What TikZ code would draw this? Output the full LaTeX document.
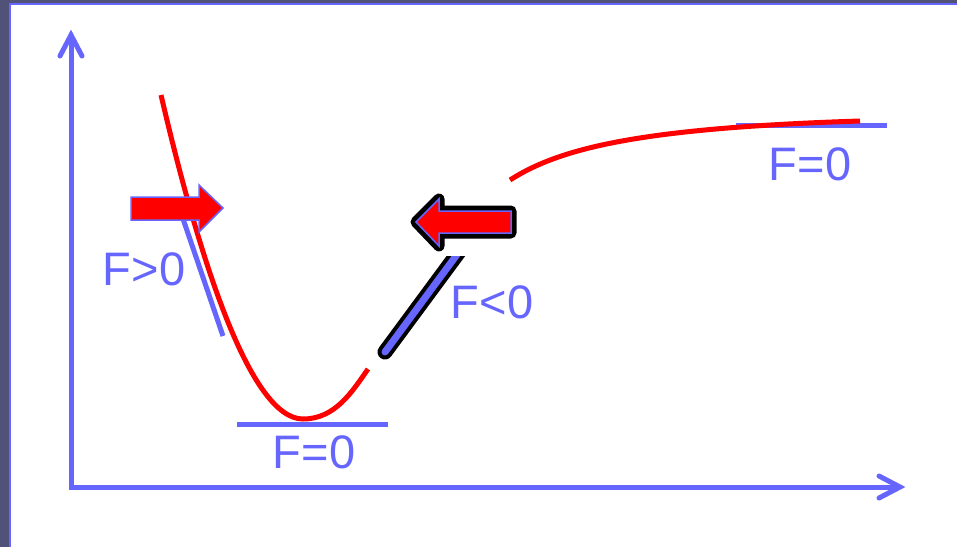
\documentclass[tikz,border=0pt]{standalone}
\usepackage{fontspec}
\setmainfont{Liberation Sans}
\definecolor{bluish}{HTML}{6666FF}
\definecolor{bgdark}{RGB}{80,82,120}
\tikzset{
  axisline/.style={draw=bluish, line width=5pt, line join=miter},
  barb/.style={draw=bluish, line width=5pt, line join=miter, line cap=round},
  tangent/.style={draw=bluish, line width=5pt},
  curve/.style={draw=red, line width=5pt, line cap=butt},
  label/.style={text=bluish, font=\fontsize{47}{50}\selectfont, inner sep=0pt},
  fatarrow/.style={fill=red, draw=bluish, line width=1.5pt, line join=miter},
}
\begin{document}
\begin{tikzpicture}[x=1pt, y=-1pt]
\useasboundingbox (0,0) rectangle (957,547);
% background frame
\fill[bgdark] (0,0) rectangle (957,547);
\fill[white] (10,4) rectangle (957,547);
\draw[bluish, line width=2pt] (10,547) -- (10,4) -- (957,4);

% axes
\coordinate (O) at (71,487);
\coordinate (ytip) at (71,35);
\coordinate (xtip) at (900,487);
\draw[axisline] (ytip) -- (O) -- (xtip);
\draw[barb] (60,56) -- (ytip) -- (82,56);
\draw[barb] (879,476) -- (xtip) -- (879,498);

% tangent lines
\coordinate (t1a) at (180,210);
\coordinate (t1b) at (223,336);
\draw[tangent] (t1a) -- (t1b);
\coordinate (t2a) at (237,424);
\coordinate (t2b) at (388,424);
\draw[tangent] (t2a) -- (t2b);
\coordinate (t3a) at (736,125);
\coordinate (t3b) at (887,125);
\draw[tangent] (t3a) -- (t3b);

% potential curve (left part, up to where the pasted picture hides it)
\coordinate (c0) at (161,95);
\coordinate (cmin) at (303,419);
\coordinate (c1) at (368,369);
\draw[curve] (c0) .. controls (199,258) and (250,419) .. (cmin)
                  .. controls (335,419) and (352,392) .. (c1);
% potential curve (right part)
\coordinate (c2) at (510,180);
\coordinate (c3) at (860,121);
\draw[curve] (c2) .. controls (560,148) and (640,128) .. (c3);

% right-pointing arrow (F>0)
\draw[fatarrow] (131,197) -- (199,197) -- (199,185) -- (223,208) -- (199,232) -- (199,220) -- (131,220) -- cycle;

% tilted tangent with black outline (F<0)
\begin{scope}
\clip (300,256) rectangle (560,400);
\coordinate (s1) at (385,352);
\coordinate (s2) at (464,245);
\draw[black, line width=15pt, line cap=round] (s1) -- (s2);
\draw[bluish, line width=7pt, line cap=round] (s1) -- (s2);
\end{scope}

% left-pointing arrow with black outline
\draw[black, line width=11pt, line join=round, fill=black] (511,211) -- (439,211) -- (439,199) -- (416,222) -- (439,246) -- (439,233) -- (511,233) -- cycle;
\draw[fatarrow] (511,211) -- (439,211) -- (439,199) -- (416,222) -- (439,246) -- (439,233) -- (511,233) -- cycle;

% labels
\node[label] (fpos) at (144,269) {F>0};
\node[label] (fneg) at (492,302) {F<0};
\node[label] (fzero1) at (314,452) {F=0};
\node[label] (fzero2) at (810,164) {F=0};
\end{tikzpicture}
\end{document}
